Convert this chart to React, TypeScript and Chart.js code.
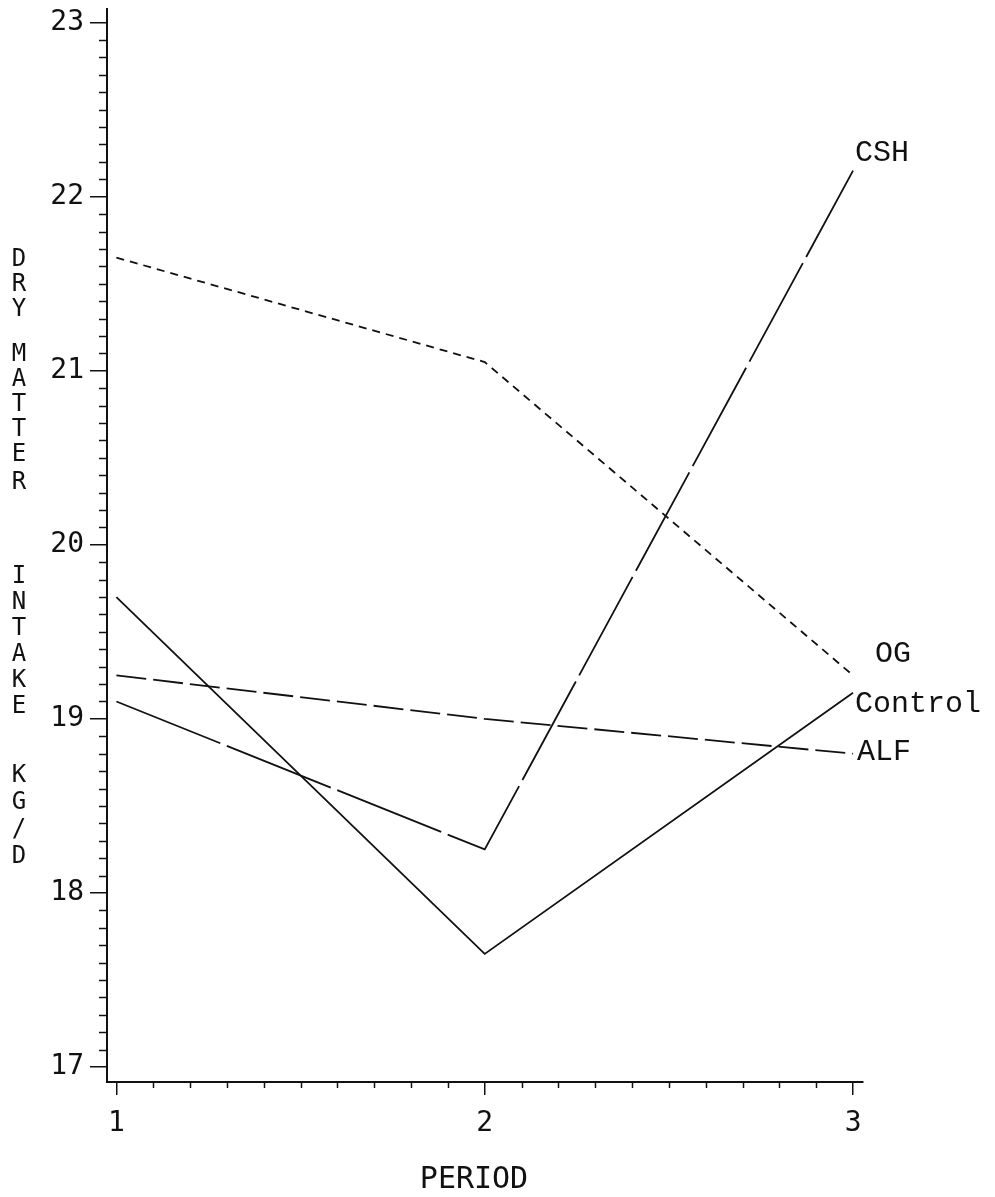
import React, { useEffect, useRef } from 'react';
import { Chart, registerables } from 'chart.js';

Chart.register(...registerables);

const periods = [1, 2, 3];
const controlValues = [19.7, 17.65, 19.15];
const ogValues = [21.65, 21.05, 19.25];
const alfValues = [19.25, 19.0, 18.8];
const cshValues = [19.1, 18.25, 22.15];
const seriesNames = ['Control', 'OG', 'ALF', 'CSH'];
const yTickValues = [17, 18, 19, 20, 21, 22, 23];
const xTickValues = [1, 2, 3];
const yTitle = 'DRY MATTER INTAKE KG/D';
const xTitle = 'PERIOD';

export default function App() {
  const ref = useRef<HTMLCanvasElement>(null);

  useEffect(() => {
    const canvas = ref.current;
    if (!canvas) return;
    const ink = '#111';
    const tickFont = '"DejaVu Sans Mono"';

    // per-letter vertical positions (canvas px) for the stacked y title
    const letterY = [252, 277, 302, 347, 372, 397, 422, 447, 475, 569, 595, 621, 647, 673, 699, 768, 795, 822, 849];
    const labelOffsets: Record<string, [number, number]> = {
      Control: [2, 19],
      OG: [22, -13],
      ALF: [4, 6],
      CSH: [2, -10],
    };

    const decor = {
      id: 'decor',
      afterDraw(chart: any) {
        const { ctx, chartArea: area } = chart;
        const xs = chart.scales.x;
        const ys = chart.scales.y;
        ctx.save();
        ctx.strokeStyle = ink;
        ctx.lineWidth = 1.5;
        // minor y ticks
        const y0 = yTickValues[0];
        const y1 = yTickValues[yTickValues.length - 1];
        for (let i = 1; i < (y1 - y0) * 10; i++) {
          if (i % 10 === 0) continue;
          const py = Math.round(ys.getPixelForValue(y0 + i / 10)) + 0.5;
          ctx.beginPath();
          ctx.moveTo(area.left - 8, py);
          ctx.lineTo(area.left, py);
          ctx.stroke();
        }
        // minor x ticks
        const x0 = xTickValues[0];
        const x1 = xTickValues[xTickValues.length - 1];
        for (let i = 1; i < (x1 - x0) * 10; i++) {
          if (i % 10 === 0) continue;
          const px = Math.round(xs.getPixelForValue(x0 + i / 10)) + 0.5;
          ctx.beginPath();
          ctx.moveTo(px, area.bottom);
          ctx.lineTo(px, area.bottom + 6);
          ctx.stroke();
        }
        // stacked y-axis title
        ctx.fillStyle = ink;
        ctx.font = `24px ${tickFont}`;
        ctx.textAlign = 'center';
        ctx.textBaseline = 'middle';
        const letters = yTitle.split('').filter((c) => c !== ' ');
        letters.forEach((c, i) => {
          ctx.fillText(c, 11, letterY[i]);
        });
        // x-axis title
        ctx.font = `30px ${tickFont}`;
        ctx.fillText(xTitle, (area.left + area.right) / 2 - 11, 1172);
        // series end labels
        ctx.font = '30px "Liberation Mono"';
        ctx.textAlign = 'left';
        ctx.textBaseline = 'alphabetic';
        chart.data.datasets.forEach((ds: any, di: number) => {
          const meta = chart.getDatasetMeta(di);
          const last = meta.data[meta.data.length - 1];
          const off = labelOffsets[ds.label] || [4, 0];
          ctx.fillText(ds.label, last.x + off[0], last.y + off[1]);
        });
        ctx.restore();
      },
    };

    const mk = (label: string, values: number[], dash: number[]) => ({
      label,
      data: periods.map((p, i) => ({ x: p, y: values[i] })),
      borderColor: ink,
      borderWidth: 1.8,
      borderDash: dash,
      pointRadius: 0,
      fill: false,
      tension: 0,
    });

    const chart = new Chart(canvas, {
      type: 'line',
      data: {
        datasets: [
          mk(seriesNames[0], controlValues, []),
          mk(seriesNames[1], ogValues, [8, 6]),
          mk(seriesNames[2], alfValues, [30, 7]),
          mk(seriesNames[3], cshValues, [112, 7]),
        ],
      },
      options: {
        animation: false,
        responsive: true,
        maintainAspectRatio: false,
        layout: { padding: { top: 0, right: 124, left: 0, bottom: 0 } },
        plugins: { legend: { display: false }, tooltip: { enabled: false } },
        scales: {
          x: {
            type: 'linear',
            min: 0.9745,
            max: 3.027,
            afterBuildTicks: (s: any) => {
              s.ticks = xTickValues.map((v) => ({ value: v }));
            },
            afterFit: (s: any) => {
              s.height = 107;
              s.paddingLeft = 0;
              s.paddingRight = 0;
            },
            grid: { drawOnChartArea: false, drawTicks: true, tickLength: 13, color: ink, lineWidth: 1.5 },
            border: { display: true, color: ink, width: 2 },
            ticks: {
              color: ink,
              font: { family: 'DejaVu Sans Mono', size: 28 },
              padding: 12,
              maxRotation: 0,
              autoSkip: false,
              callback: (v: any) => String(v),
            },
          },
          y: {
            type: 'linear',
            min: 16.914,
            max: 23.084,
            afterBuildTicks: (s: any) => {
              s.ticks = yTickValues.map((v) => ({ value: v }));
            },
            afterFit: (s: any) => {
              s.width = 99;
              s.paddingTop = 0;
              s.paddingBottom = 0;
            },
            grid: { drawOnChartArea: false, drawTicks: true, tickLength: 17, color: ink, lineWidth: 1.5 },
            border: { display: true, color: ink, width: 2 },
            ticks: {
              color: ink,
              font: { family: 'DejaVu Sans Mono', size: 28 },
              padding: 6,
              autoSkip: false,
              callback: (v: any) => String(v),
            },
          },
        },
      },
      plugins: [decor],
    } as any);

    return () => chart.destroy();
  }, []);

  return (
    <div style={{ width: 979, height: 1181, position: 'relative', background: '#fff' }}>
      <canvas ref={ref} />
    </div>
  );
}
